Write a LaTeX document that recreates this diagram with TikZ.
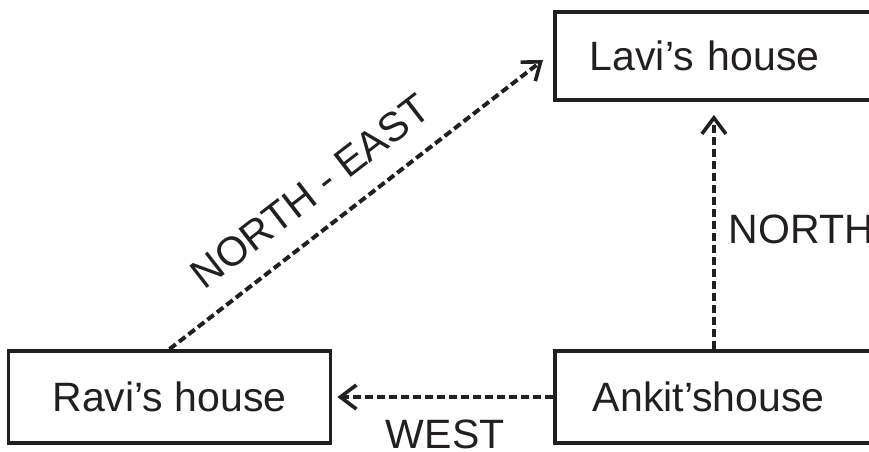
\documentclass[tikz,border=0pt]{standalone}
\usepackage{fontspec}
\setmainfont{Liberation Sans}
\usetikzlibrary{arrows.meta}
\definecolor{ink}{RGB}{35,31,32}
\begin{document}
\begin{tikzpicture}[x=0.5pt,y=-0.5pt,
  every node/.style={text=ink, font=\fontsize{20.5pt}{24pt}\selectfont},
  house/.style={draw=ink, line width=1.9pt, rectangle, minimum height=46pt, inner sep=0pt},
  conn/.style={draw=ink, line width=2pt, dash pattern=on 4pt off 2pt,
     -{Straight Barb[length=8pt,width=12pt,line width=1.8pt]}},
  lbl/.style={inner sep=0pt}]
\useasboundingbox (0,0) rectangle (869,451);
\clip (0,0) rectangle (869,451);
\node[house, minimum width=161pt] (ravi) at (169.5,397) {Ravi’s house};
\node[house, anchor=west, text width=161pt, align=left]
  (ankit) at (553,397) {\hspace*{19pt}Ankit’shouse};
\node[house, anchor=west, minimum height=44pt, text width=161pt, align=left]
  (lavi) at (553,56) {\hspace*{17.5pt}Lavi’s house};
\draw[conn] (ravi.north) -- ([xshift=-5pt,yshift=-2pt]lavi.west)
  node[pos=0.44, sloped, above, inner ysep=11pt, inner xsep=0pt] (ne) {NORTH - EAST};
\draw[conn] ([xshift=-1pt]ankit.north) -- ([xshift=-1pt,yshift=-6.5pt]lavi.south)
  node[pos=0.51, anchor=west, lbl, xshift=6.5pt] (n) {NORTH};
\draw[conn] (ankit.west) -- ([xshift=2.5pt]ravi.east)
  node[midway, below, lbl, yshift=-10.5pt] (w) {WEST};
\end{tikzpicture}
\end{document}
